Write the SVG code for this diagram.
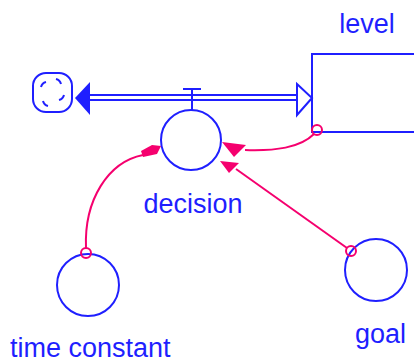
<svg xmlns="http://www.w3.org/2000/svg" width="414" height="362" viewBox="0 0 414 362">
<style>
.b{stroke:#1f1fff;stroke-width:2;fill:none}
.bf{fill:#1f1fff}
.p{stroke:#f5006e;stroke-width:2;fill:none}
.pf{fill:#f5006e}
text{font-family:"Liberation Sans",Arial,sans-serif;font-size:27px;fill:#1f1fff}
</style>
<rect width="414" height="362" fill="#fff"/>
<g id="level">
<rect class="b" x="312" y="54" width="110" height="78"/>
<text x="367" y="33" text-anchor="middle">level</text>
</g>
<g id="cloud">
<rect class="b" x="33" y="73" width="39" height="39" rx="13"/>
<path class="b" d="M41,87 q1,-4 5,-5 M56,79 q4,1 5,5 M64,95 q-1,4 -5,5 M48,106 q-4,-1 -5,-5" stroke-width="1.8"/>
</g>
<g id="flow">
<line class="b" x1="90" y1="95" x2="297" y2="95"/>
<line class="b" x1="90" y1="100" x2="297" y2="100"/>
<polygon class="bf" points="75,98 90,82 90,115"/>
<polygon class="b" points="297,84 312,98 297,115" fill="#fff"/>
<line class="b" x1="183" y1="89" x2="201" y2="89"/>
<line class="b" x1="192" y1="89" x2="192" y2="110"/>
</g>
<g id="decision">
<circle class="b" cx="191" cy="140" r="30"/>
<text x="193" y="213" text-anchor="middle">decision</text>
</g>
<g id="time_constant">
<circle class="b" cx="88" cy="285" r="31"/>
<text x="10" y="357">time constant</text>
</g>
<g id="goal">
<circle class="b" cx="376" cy="270" r="31"/>
<text x="355" y="343">goal</text>
</g>
<g id="connectors">
<path class="p" d="M314,134 C300,148 275,151 245,150"/>
<polygon class="pf" points="222,142 246,145 234,157"/>
<circle class="p" cx="317" cy="130" r="5"/>
<line class="p" x1="347" y1="248" x2="236" y2="169"/>
<polygon class="pf" points="220,161 239,163 229,173"/>
<circle class="p" cx="351" cy="251" r="5"/>
<path class="p" d="M86,248 C84,200 108,162 143,155"/>
<polygon class="pf" points="141,151 152,145 161,146 157,154 143,157"/>
<circle class="p" cx="86" cy="253" r="5"/>
</g>
</svg>
